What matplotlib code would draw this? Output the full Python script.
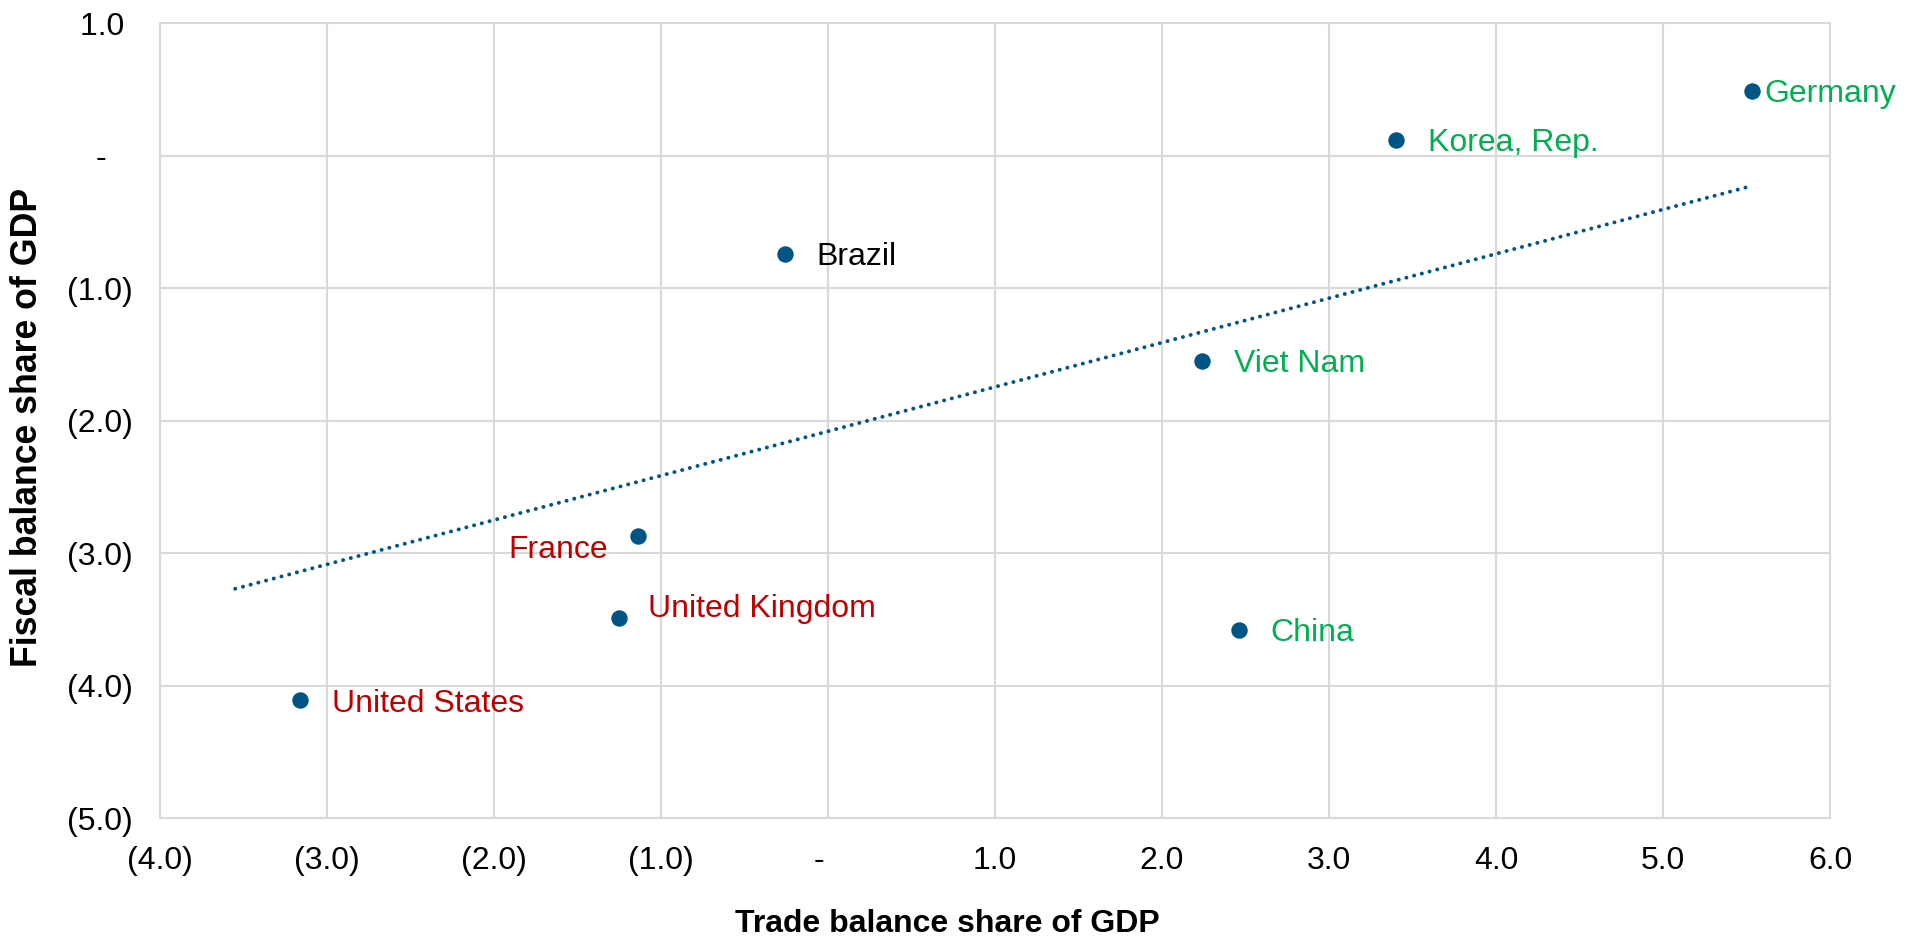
import numpy as np
import matplotlib
matplotlib.use("Agg")
from matplotlib import pyplot as plt

# trade balance vs fiscal balance, % of GDP
countries = ["Germany", "Korea, Rep.", "Brazil", "Viet Nam", "France",
             "United Kingdom", "China", "United States"]
trade_bal = [5.53, 3.40, -0.26, 2.24, -1.14, -1.25, 2.46, -3.16]
fiscal_bal = [0.49, 0.12, -0.74, -1.55, -2.87, -3.49, -3.58, -4.11]
label_colors = ["#00B050", "#00B050", "#000000", "#00B050", "#C00000",
                "#C00000", "#00B050", "#C00000"]
# label offsets (points) and alignment
label_dx = [9, 23, 23, 23, -21, 21, 23, 23]
label_dy = [0, 0, 0, 0, -8, 9, 0, 0]
label_ha = ["left", "left", "left", "left", "right", "left", "left", "left"]

# linear trend line end points
trend_x = [-3.55, 5.50]
trend_y = [-3.27, -0.24]

x_ticks = [-4, -3, -2, -1, 0, 1, 2, 3, 4, 5, 6]
y_ticks = [-5, -4, -3, -2, -1, 0, 1]


def acct(v, zero, pos_pad=""):
    # accounting style: negatives in brackets, zero as a dash
    if v == 0:
        return zero
    if v < 0:
        return "(%.1f)" % -v
    return "%.1f" % v + pos_pad


plt.rcParams['font.family'] = ['Liberation Sans', 'DejaVu Sans']
FS = 23

fig = plt.figure(figsize=(19.19, 9.40), dpi=100)
ax = fig.add_axes([160 / 1919, 1 - 818 / 940, 1670 / 1919, 795 / 940])

ax.set_xlim(-4, 6)
ax.set_ylim(-5, 1)
ax.set_xticks(x_ticks)
ax.set_yticks(y_ticks)
ax.set_xticklabels([acct(v, "-  ") for v in x_ticks])
ax.set_yticklabels([acct(v, "-   ", " ") for v in y_ticks])
ax.tick_params(axis='both', length=0, labelsize=FS, colors='#000000')
ax.tick_params(axis='x', pad=20)
ax.tick_params(axis='y', pad=19.5)

ax.grid(True, color='#D9D9D9', linewidth=1.5, zorder=0)
for s in ax.spines.values():
    s.set_color('#D9D9D9')
    s.set_linewidth(1.5)
ax.axhline(0, color='#BFBFBF', linewidth=1.5, zorder=1)
ax.axvline(0, color='#BFBFBF', linewidth=1.5, zorder=1)

ax.plot(trend_x, trend_y, color='#005587', linewidth=2.8,
        linestyle=(0, (0.05, 2.0)), dash_capstyle='round', zorder=2)
ax.scatter(trade_bal, fiscal_bal, s=140, color='#005587', zorder=3,
           linewidths=0)

for i, name in enumerate(countries):
    ax.annotate(name, (trade_bal[i], fiscal_bal[i]),
                xytext=(label_dx[i], label_dy[i]), textcoords='offset points',
                ha=label_ha[i], va='center_baseline', fontsize=FS,
                color=label_colors[i], zorder=4)

fig.text(947 / 1919, 1 - 932 / 940, "Trade balance share of GDP",
         ha='center', va='baseline', fontsize=FS, fontweight='bold')
fig.text(37 / 1919, 1 - 427 / 940, "Fiscal balance share of GDP",
         ha='center', va='baseline', rotation=90, rotation_mode='anchor',
         fontsize=25.7, fontweight='bold')

fig.savefig("out.png", dpi=100)
